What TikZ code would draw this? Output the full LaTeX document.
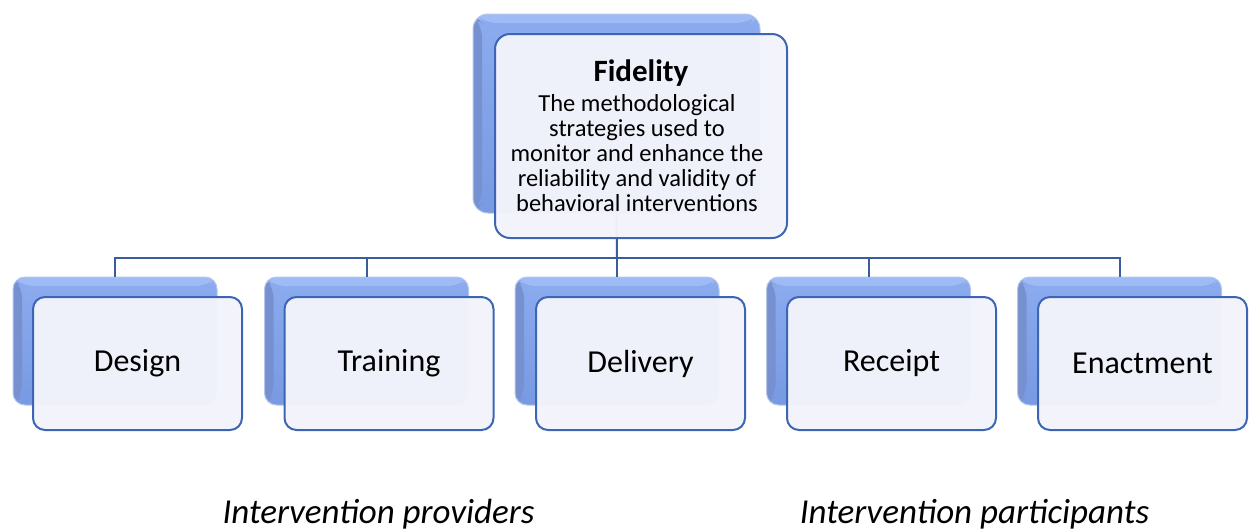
\documentclass[tikz,border=0pt]{standalone}
\usepackage{fontspec}
\setmainfont{Carlito}
\usetikzlibrary{calc}

\definecolor{bbtop}{HTML}{8CABEF}
\definecolor{bbbot}{HTML}{789AE2}
\definecolor{bbdark}{HTML}{7690D0}
\definecolor{bblight}{HTML}{9FBBF5}
\definecolor{bbedge}{HTML}{B4C6EC}
\definecolor{ffill}{HTML}{F3F4FB}
\definecolor{fborder}{HTML}{3C66B4}
\definecolor{conncol}{HTML}{3A5C9C}

\tikzset{
  backbox/.style={inner sep=0pt, rounded corners=12pt, draw=bbedge, line width=1pt,
    top color=bbtop, bottom color=bbbot,
    path picture={
      \fill[bblight] (path picture bounding box.north west) -- (path picture bounding box.north east)
        -- ($(path picture bounding box.north east)+(-9,9)$) -- ($(path picture bounding box.north west)+(9,9)$) -- cycle;
      \fill[bbdark] (path picture bounding box.north west) -- ($(path picture bounding box.north west)+(9,9)$)
        -- ($(path picture bounding box.south west)+(9,-9)$) -- (path picture bounding box.south west) -- cycle;
    }},
  frontbox/.style={inner sep=0pt, rounded corners=12pt, draw=fborder, line width=2pt,
    fill=ffill, fill opacity=0.97, text opacity=1},
  smallback/.style={backbox, minimum width=204pt, minimum height=128pt},
  smallfront/.style={frontbox, minimum width=209pt, minimum height=133pt,
    font=\fontsize{32}{38}\selectfont},
  conn/.style={draw=conncol, line width=2pt},
  group/.style={font=\fontsize{35}{42}\selectfont\itshape, anchor=base, inner sep=0pt}
}

\begin{document}
\begin{tikzpicture}[x=1pt, y=-1pt]
  \useasboundingbox (0,0) rectangle (1255,531);

  % top element: back plate
  \node[backbox, rounded corners=15pt, minimum width=287pt, minimum height=199pt] (fidB) at (616.5,113.5) {};

  % lower elements: back plates
  \node[smallback] (desB) at (115,341) {};
  \node[smallback] (traB) at (366.5,341) {};
  \node[smallback] (delB) at (617,341) {};
  \node[smallback] (recB) at (868.5,341) {};
  \node[smallback] (enaB) at (1119.5,341) {};

  % hierarchy lines
  \coordinate (bus) at (617,258);
  \draw[conn] (fidB.south) -- (bus);
  \draw[conn] (desB.north) |- (bus);
  \draw[conn] (traB.north) |- (bus);
  \draw[conn] (delB.north) -- (bus);
  \draw[conn] (recB.north) |- (bus);
  \draw[conn] (enaB.north) |- (bus);

  % top element: front card
  \node[frontbox, rounded corners=15pt, minimum width=292pt, minimum height=204pt] (fid) at (641,136) {};
  \node[font=\fontsize{31}{36}\selectfont\bfseries, anchor=base, inner sep=0pt] (fidtitle) at (641,81) {Fidelity};
  \node[font=\fontsize{24.5}{25}\selectfont, align=center, anchor=north, inner sep=0pt] (fidtext) at (637,94)
    {The methodological\\strategies used to\\monitor and enhance the\\reliability and validity of\\behavioral interventions};

  % lower elements: front cards
  \node[smallfront] (des) at (137.5,363.5) {Design};
  \node[smallfront] (tra) at (389,363.5) {Training};
  \node[smallfront] (del) at (640.5,363.5) {Delivery};
  \node[smallfront] (rec) at (891.5,363.5) {Receipt};
  \node[smallfront] (ena) at (1142.5,363.5) {Enactment};

  % group captions
  \node[group] (prov) at (378.5,523) {Intervention providers};
  \node[group] (part) at (974.5,523) {Intervention participants};
\end{tikzpicture}
\end{document}
